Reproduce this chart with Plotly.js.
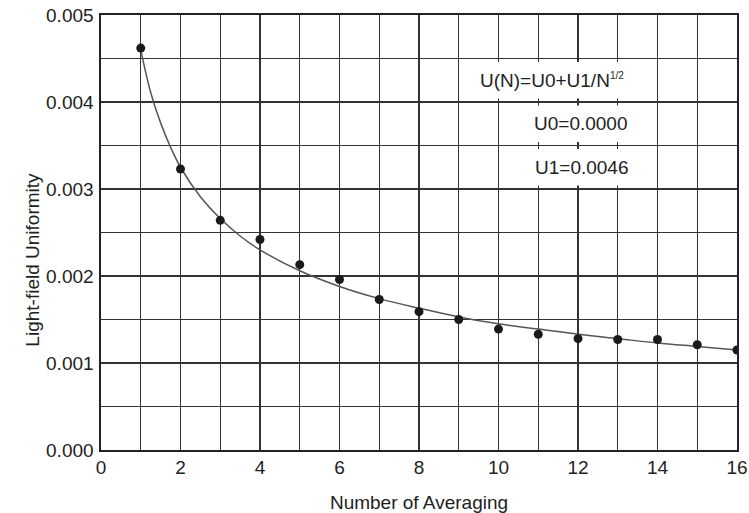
<!DOCTYPE html>
<html>
<head>
<meta charset="utf-8">
<script src="https://cdn.plot.ly/plotly-3.0.1.min.js"></script>
<style>html,body{margin:0;padding:0;background:#fff;}#chart{width:749px;height:513px;}</style>
</head>
<body>
<div id="chart"></div>
<script>
// Measured data points
var nAvg = [1, 2, 3, 4, 5, 6, 7, 8, 9, 10, 11, 12, 13, 14, 15, 16];
var uniformity = [0.00462, 0.00323, 0.00264, 0.00242, 0.00213, 0.00196, 0.00173, 0.00159, 0.00150, 0.00139, 0.00133, 0.00128, 0.00127, 0.00127, 0.00121, 0.00115];

// Fitted curve
var fitN = [1, 1.25, 1.5, 1.75, 2, 2.5, 3, 3.5, 4, 5, 6, 7, 8, 9, 10, 11, 12, 13, 14, 15, 16];
var fitU = [0.00460, 0.00411, 0.00376, 0.00348, 0.00325, 0.00291, 0.00266, 0.00246, 0.00230, 0.00206, 0.00188, 0.00174, 0.00163, 0.00153, 0.00145, 0.00139, 0.00133, 0.00128, 0.00123, 0.00119, 0.00115];

// Tick positions (every grid line) and labels
var xTicks = [0, 1, 2, 3, 4, 5, 6, 7, 8, 9, 10, 11, 12, 13, 14, 15, 16];
var xTickText = ['0', ' ', '2', ' ', '4', ' ', '6', ' ', '8', ' ', '10', ' ', '12', ' ', '14', ' ', '16'];
var yTicks = [0, 0.0005, 0.001, 0.0015, 0.002, 0.0025, 0.003, 0.0035, 0.004, 0.0045, 0.005];
var yTickText = ['0.000', ' ', '0.001', ' ', '0.002', ' ', '0.003', ' ', '0.004', ' ', '0.005'];

// Fit text
var fitLabel = 'U(N)=U0+U1/N<sup><span style="font-size:10px">1/2</span></sup>';
var u0Label = 'U0=0.0000';
var u1Label = 'U1=0.0046';

var FONT = 'Arial, "Liberation Sans", Helvetica, sans-serif';
var gridCol = '#333333';

var traces = [
  {
    x: fitN, y: fitU, type: 'scatter', mode: 'lines', line: {shape: 'spline', color: '#555555', width: 1.5},
    hoverinfo: 'skip', showlegend: false
  },
  {
    x: nAvg, y: uniformity, type: 'scatter', mode: 'markers',
    marker: {color: '#1a1a1a', size: 9}, showlegend: false
  }
];

var layout = {
  width: 749, height: 513,
  margin: {l: 101, r: 12, t: 15, b: 63},
  paper_bgcolor: '#ffffff', plot_bgcolor: '#ffffff',
  font: {family: FONT, size: 19, color: '#222222'},
  showlegend: false,
  xaxis: {
    range: [0, 16], tickvals: xTicks, ticktext: xTickText, ticks: '', showgrid: true, gridcolor: gridCol, gridwidth: 1.4,
    showline: true, mirror: true, linecolor: '#222222', linewidth: 1.6, zeroline: false,
    tickfont: {size: 19, color: '#222222'},
    title: {text: 'Number of Averaging', font: {size: 19, color: '#222222'}, standoff: 21}
  },
  yaxis: {
    range: [0, 0.005], tickvals: yTicks, ticktext: yTickText, ticks: '', showgrid: true, gridcolor: gridCol, gridwidth: 1.4,
    showline: true, mirror: true, linecolor: '#222222', linewidth: 1.6, zeroline: false,
    tickfont: {size: 19, color: '#222222'}, ticklabelstandoff: 2
  },
  shapes: [
    {type: 'rect', xref: 'x', yref: 'y', x0: 9.04, x1: 13.96, y0: 0.00404, y1: 0.00446, fillcolor: '#ffffff', line: {width: 0}, layer: 'above'},
    {type: 'rect', xref: 'x', yref: 'y', x0: 10.04, x1: 13.96, y0: 0.00354, y1: 0.00396, fillcolor: '#ffffff', line: {width: 0}, layer: 'above'},
    {type: 'rect', xref: 'x', yref: 'y', x0: 10.04, x1: 13.96, y0: 0.00304, y1: 0.00346, fillcolor: '#ffffff', line: {width: 0}, layer: 'above'}
  ],
  annotations: [
    {text: fitLabel, xref: 'x', yref: 'y', x: 11.35, y: 0.00425, showarrow: false, font: {size: 19, color: '#222222'}},
    {text: u0Label, xref: 'x', yref: 'y', x: 12.08, y: 0.00375, showarrow: false, font: {size: 19, color: '#222222'}},
    {text: u1Label, xref: 'x', yref: 'y', x: 12.1, y: 0.00325, showarrow: false, font: {size: 19, color: '#222222'}},
    {text: 'Light-field Uniformity', xref: 'paper', yref: 'paper', x: -0.127, y: 0.437, textangle: -90,
     showarrow: false, font: {size: 19, color: '#222222'}}
  ]
};

Plotly.newPlot('chart', traces, layout, {displayModeBar: false, staticPlot: true});
</script>
</body>
</html>
